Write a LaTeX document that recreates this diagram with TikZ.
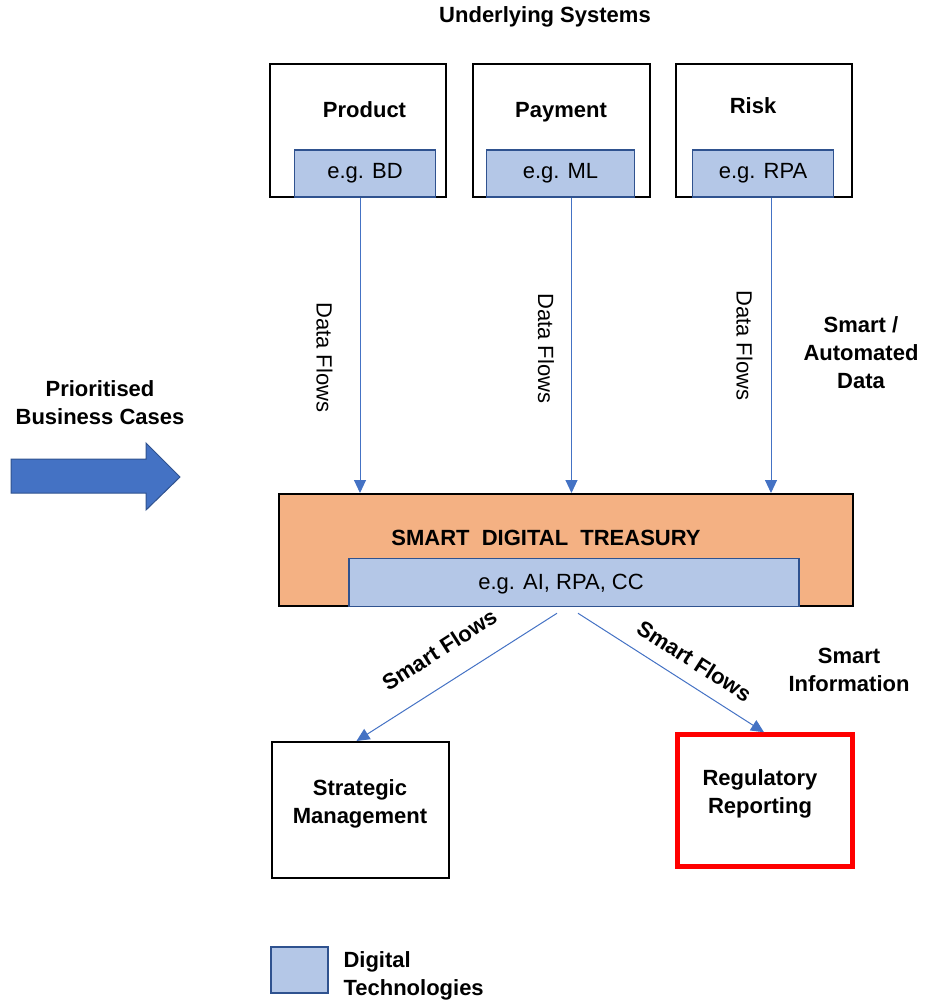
\documentclass[tikz,border=0pt]{standalone}
\usepackage{fontspec}
\setmainfont{Liberation Sans}
\usetikzlibrary{arrows.meta}

\definecolor{techfill}{HTML}{B4C7E7}
\definecolor{techline}{HTML}{2F528F}
\definecolor{flowline}{HTML}{4472C4}
\definecolor{treasuryfill}{HTML}{F4B183}

\tikzset{
  sysbox/.style={draw, line width=2pt, inner sep=0pt},
  techbox/.style={draw=techline, fill=techfill, line width=1.5pt, inner sep=0pt},
  flow/.style={draw=flowline, line width=1pt, -{Triangle[length=13pt,width=12pt]}},
  lbl/.style={font=\fontsize{22}{28}\selectfont\bfseries, align=center},
  txt/.style={font=\fontsize{22}{28}\selectfont, align=center, inner sep=0pt},
}

\begin{document}
\begin{tikzpicture}[x=1pt, y=-1pt]
    \useasboundingbox (0,0) rectangle (933,1002);

    \node[lbl] (systems) at (545,17) {Underlying Systems};

    % underlying systems
    \node[sysbox, minimum width=176pt, minimum height=133pt] (product) at (358,130.5) {};
    \node[sysbox, minimum width=177pt, minimum height=133pt] (payment) at (561.5,130.5) {};
    \node[sysbox, minimum width=176pt, minimum height=133pt] (risk) at (764,130.5) {};
    \node[lbl] (productlbl) at (364.5,110) {Product};
    \node[lbl] (paymentlbl) at (561,112) {Payment};
    \node[lbl] (risklbl) at (753,106) {Risk};
    \node[techbox, txt, minimum width=141pt, minimum height=47pt] (bd) at (365,173.5) {e.g. BD};
    \node[techbox, txt, minimum width=148pt, minimum height=47pt] (ml) at (560.5,173.5) {e.g. ML};
    \node[techbox, txt, minimum width=141pt, minimum height=47pt] (rpa) at (763,173.5) {e.g. RPA};

    % treasury
    \node[sysbox, fill=treasuryfill, minimum width=574pt, minimum height=112pt] (sdt) at (566,550) {};
    \node[lbl] (sdtlbl) at (546,538) {SMART~ DIGITAL~ TREASURY};
    \node[techbox, minimum width=450pt, minimum height=48pt] (aitech) at (574,582.5) {};
    \node[txt] (aitechlbl) at (561,584) {e.g. AI, RPA, CC};

    \draw[flow] ([xshift=-5pt]bd.south) -- node[txt, sloped, pos=0.54, below=27pt] {Data Flows} ([xshift=-5pt]bd.south |- sdt.north);
    \draw[flow] ([xshift=11pt]ml.south) -- node[txt, sloped, pos=0.51, below=17pt] {Data Flows} ([xshift=11pt]ml.south |- sdt.north);
    \draw[flow] ([xshift=8pt]rpa.south) -- node[txt, sloped, pos=0.5, below=18pt] {Data Flows} ([xshift=8pt]rpa.south |- sdt.north);

    \node[lbl] (automated) at (861,353) {Smart /\\Automated\\Data};
    \node[lbl] (cases) at (100,403) {Prioritised\\Business Cases};
    \draw[draw=techline, fill=flowline, line width=1pt]
        (11,459) -- (146,459) -- (146,443) -- (180,477) -- (146,510) -- (146,493) -- (11,493) -- cycle;

    % outputs
    \node[sysbox, minimum width=177pt, minimum height=136pt] (strat) at (360.5,810) {};
    \node[lbl] (stratlbl) at (360,804) {Strategic\\Management};
    \node[draw=red, line width=4.5pt, inner sep=0pt, minimum width=175pt, minimum height=132pt] (reg) at (765,800.5) {};
    \node[lbl] (reglbl) at (760,794) {Regulatory\\Reporting};
    \node[lbl] (information) at (849,670) {Smart\\Information};

    \draw[flow] ([xshift=-17pt,yshift=-6pt]aitech.south) -- node[lbl, sloped, pos=0.5, above=24pt, inner sep=0pt] {Smart Flows} ([xshift=-4pt]strat.north);
    \draw[flow] ([xshift=4pt,yshift=-6pt]aitech.south) -- node[lbl, sloped, pos=0.56, above=14pt, inner sep=0pt] {Smart Flows} ([xshift=-1pt]reg.north);

    % legend
    \node[techbox, minimum width=57pt, minimum height=46pt] (legend) at (299.5,970) {};
    \node[lbl, align=left, anchor=west] (legendlbl) at (340,976) {Digital\\Technologies};
\end{tikzpicture}
\end{document}
